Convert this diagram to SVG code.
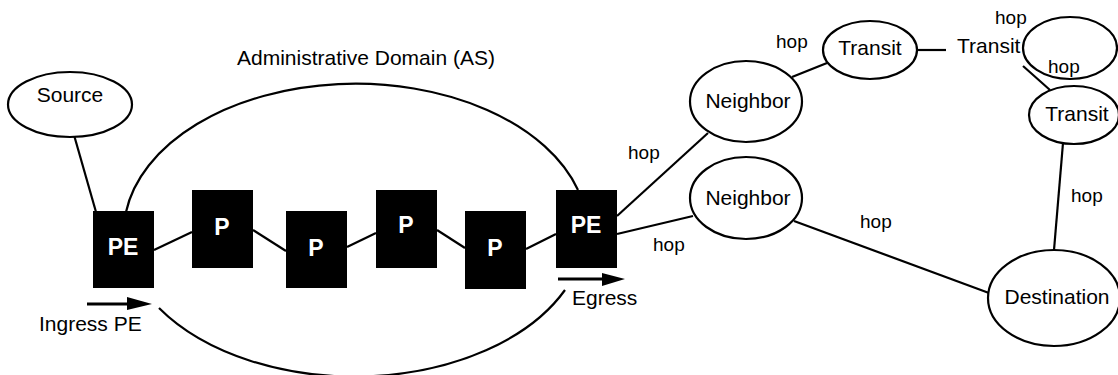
<svg xmlns="http://www.w3.org/2000/svg" width="1118" height="375" viewBox="0 0 1118 375">
<defs>
<style>
.t{font-family:"Liberation Sans",Arial,sans-serif;font-size:21px;fill:#000}
.h{font-family:"Liberation Sans",Arial,sans-serif;font-size:19px;fill:#000}
.b{font-family:"Liberation Sans",Arial,sans-serif;font-size:23px;font-weight:bold;fill:#fff;text-anchor:middle}
.e{fill:#fff;stroke:#000;stroke-width:2.2}
.box{fill:#000}
.ln{stroke:#000;stroke-width:2.2;fill:none}
.ar{stroke:#000;stroke-width:3;fill:none}
.m{text-anchor:middle}
</style>
</defs>
<rect width="1118" height="375" fill="#fff"/>
<g id="domain">
<path class="ln" d="M126,212 A232,149 0 0 1 578,190"/>
<path class="ln" d="M159,308 A232,149 0 0 0 565,290"/>
<text class="t" x="237" y="65">Administrative Domain (AS)</text>
</g>
<g id="connectors">
<line class="ln" x1="74" y1="135" x2="96" y2="212"/>
<line class="ln" x1="154" y1="250" x2="192" y2="232"/>
<line class="ln" x1="253" y1="230" x2="286" y2="251"/>
<line class="ln" x1="347" y1="247" x2="376" y2="233"/>
<line class="ln" x1="437" y1="230" x2="465" y2="248"/>
<line class="ln" x1="526" y1="249" x2="556" y2="234"/>
<line class="ln" x1="617" y1="216" x2="708" y2="133"/>
<line class="ln" x1="617" y1="234" x2="693" y2="216"/>
<line class="ln" x1="792" y1="77" x2="827" y2="63"/>
<line class="ln" x1="917" y1="50" x2="946" y2="50"/>
<line class="ln" x1="1023" y1="66" x2="1050" y2="90"/>
<line class="ln" x1="1063" y1="143" x2="1054" y2="250"/>
<line class="ln" x1="794" y1="221" x2="989" y2="293"/>
</g>
<g id="source">
<ellipse class="e" cx="70" cy="104.5" rx="62" ry="32.5"/>
<text class="t m" x="70" y="102">Source</text>
</g>
<g id="pe-ingress">
<rect class="box" x="93" y="211" width="61" height="77"/>
<text class="b" x="123" y="255">PE</text>
</g>
<g id="p1">
<rect class="box" x="192" y="190" width="61" height="78"/>
<text class="b" x="222" y="235">P</text>
</g>
<g id="p2">
<rect class="box" x="286" y="211" width="61" height="77"/>
<text class="b" x="316" y="256">P</text>
</g>
<g id="p3">
<rect class="box" x="376" y="190" width="61" height="78"/>
<text class="b" x="406" y="233">P</text>
</g>
<g id="p4">
<rect class="box" x="465" y="211" width="61" height="78"/>
<text class="b" x="495" y="256">P</text>
</g>
<g id="pe-egress">
<rect class="box" x="556" y="190" width="61" height="78"/>
<text class="b" x="586" y="233">PE</text>
</g>
<g id="neighbor1">
<ellipse class="e" cx="746" cy="101.5" rx="56" ry="40.5"/>
<text class="t m" x="748" y="108">Neighbor</text>
</g>
<g id="neighbor2">
<ellipse class="e" cx="746" cy="198" rx="56" ry="41"/>
<text class="t m" x="748" y="205">Neighbor</text>
</g>
<g id="transit1">
<ellipse class="e" cx="870" cy="50" rx="47" ry="29"/>
<text class="t m" x="870" y="55">Transit</text>
</g>
<g id="transit-label">
<text class="t" x="957" y="53">Transit</text>
</g>
<g id="empty-node">
<ellipse class="e" cx="1070" cy="48" rx="47" ry="31"/>
</g>
<g id="transit2">
<ellipse class="e" cx="1074" cy="115" rx="45" ry="29"/>
<text class="t m" x="1077" y="121">Transit</text>
</g>
<g id="destination">
<ellipse class="e" cx="1054" cy="298" rx="66" ry="48"/>
<text class="t m" x="1057" y="304">Destination</text>
</g>
<g id="arrows">
<line class="ar" x1="87" y1="304" x2="128" y2="304"/>
<polygon points="127,297 152,304 127,310"/>
<text class="t" x="39" y="331">Ingress PE</text>
<line class="ar" x1="558" y1="279" x2="603" y2="279"/>
<polygon points="602,273 625,279 602,286"/>
<text class="t" x="572" y="305">Egress</text>
</g>
<g id="hop-labels">
<text class="h" x="776" y="48">hop</text>
<text class="h" x="995" y="24">hop</text>
<text class="h" x="1048" y="73">hop</text>
<text class="h" x="628" y="159">hop</text>
<text class="h" x="653" y="251">hop</text>
<text class="h" x="860" y="228">hop</text>
<text class="h" x="1071" y="202">hop</text>
</g>
</svg>
